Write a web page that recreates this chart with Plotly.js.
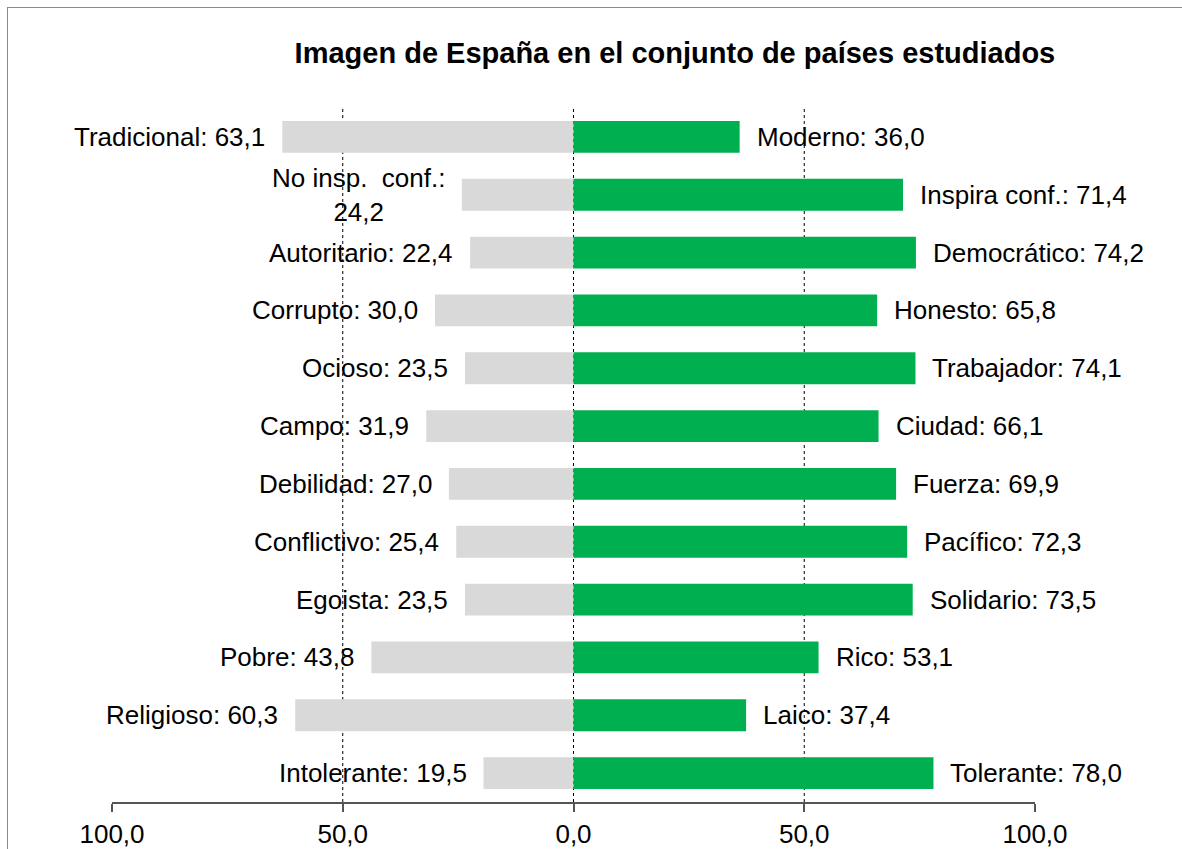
<!DOCTYPE html>
<html>
<head>
<meta charset="utf-8">
<script src="https://cdn.plot.ly/plotly-3.0.1.min.js"></script>
<style>
  html, body { margin: 0; padding: 0; width: 1182px; height: 849px; overflow: hidden; background: #fff; }
  #frame { position: absolute; left: 7px; top: 7px; width: 1200px; height: 900px; border: 1px solid #8a8a8a; box-sizing: border-box; }
  #chart { position: absolute; left: 0; top: 0; width: 1182px; height: 849px; }
</style>
</head>
<body>
<div id="frame"></div>
<div id="chart"></div>
<script>
const leftLabels = ["Tradicional", "No insp.  conf.", "Autoritario", "Corrupto", "Ocioso", "Campo", "Debilidad", "Conflictivo", "Egoista", "Pobre", "Religioso", "Intolerante"];
const leftValues = [63.1, 24.2, 22.4, 30.0, 23.5, 31.9, 27.0, 25.4, 23.5, 43.8, 60.3, 19.5];
const rightLabels = ["Moderno", "Inspira conf.", "Democrático", "Honesto", "Trabajador", "Ciudad", "Fuerza", "Pacífico", "Solidario", "Rico", "Laico", "Tolerante"];
const rightValues = [36.0, 71.4, 74.2, 65.8, 74.1, 66.1, 69.9, 72.3, 73.5, 53.1, 37.4, 78.0];
const tickValues = [-100, -50, 0, 50, 100];
const tickLabels = ["100,0", "50,0", "0,0", "50,0", "100,0"];
const gridPositions = [-50, 0, 50];
const titleText = "Imagen de España en el conjunto de países estudiados";

const fmt = v => v.toFixed(1).replace('.', ',');
const rows = leftLabels.map((_, i) => i);

const traces = [
  {
    type: 'bar', orientation: 'h',
    y: rows, x: leftValues.map(v => -v),
    marker: { color: '#d9d9d9' }, width: 0.55,
    hoverinfo: 'skip', showlegend: false
  },
  {
    type: 'bar', orientation: 'h',
    y: rows, x: rightValues,
    marker: { color: '#00b050' }, width: 0.55,
    hoverinfo: 'skip', showlegend: false
  }
];

const labelFont = { family: 'Liberation Sans, Arial, sans-serif', size: 26, color: '#000' };
const tickFont = { family: 'Liberation Sans, Arial, sans-serif', size: 26, color: '#000' };
const annotations = [];
rows.forEach(i => {
  const lt = leftLabels[i] === "No insp.  conf." ? leftLabels[i] + ':<br>' + fmt(leftValues[i]) : leftLabels[i] + ': ' + fmt(leftValues[i]);
  annotations.push({
    x: -leftValues[i], y: i, xref: 'x', yref: 'y', text: lt, showarrow: false,
    xanchor: 'right', yanchor: 'middle', xshift: -15, align: 'center', font: labelFont
  });
  annotations.push({
    x: rightValues[i], y: i, xref: 'x', yref: 'y', text: rightLabels[i] + ': ' + fmt(rightValues[i]), showarrow: false,
    xanchor: 'left', yanchor: 'middle', xshift: 15, align: 'left', font: labelFont
  });
});

const shapes = gridPositions.map(g => ({
  type: 'line', xref: 'x', yref: 'paper', x0: g, x1: g, y0: 0, y1: 1,
  line: { color: '#000', width: 1, dash: '3px,3px' }, layer: 'below'
}));

const layout = {
  width: 1182, height: 849,
  margin: { l: 112, r: 147, t: 108, b: 47 },
  paper_bgcolor: 'rgba(0,0,0,0)', plot_bgcolor: 'rgba(0,0,0,0)',
  font: labelFont,
  title: {
    text: '<b>' + titleText + '</b>',
    font: { family: 'Liberation Sans, Arial, sans-serif', size: 29, color: '#000' },
    xref: 'container', x: 0.571, xanchor: 'center', yref: 'container', y: 0.938, yanchor: 'middle'
  },
  barmode: 'overlay',
  xaxis: {
    range: [-100, 100], tickvals: tickValues, ticktext: tickLabels,
    showgrid: false, zeroline: false, showline: true, linecolor: '#555', linewidth: 2,
    ticks: 'outside', ticklen: 8, tickcolor: '#555', tickwidth: 2,
    tickfont: tickFont, fixedrange: true
  },
  yaxis: {
    range: [11.5, -0.5], showgrid: false, zeroline: false, showline: false,
    showticklabels: false, ticks: '', fixedrange: true
  },
  shapes: shapes,
  annotations: annotations
};

Plotly.newPlot('chart', traces, layout, { staticPlot: true, displayModeBar: false });
</script>
</body>
</html>
